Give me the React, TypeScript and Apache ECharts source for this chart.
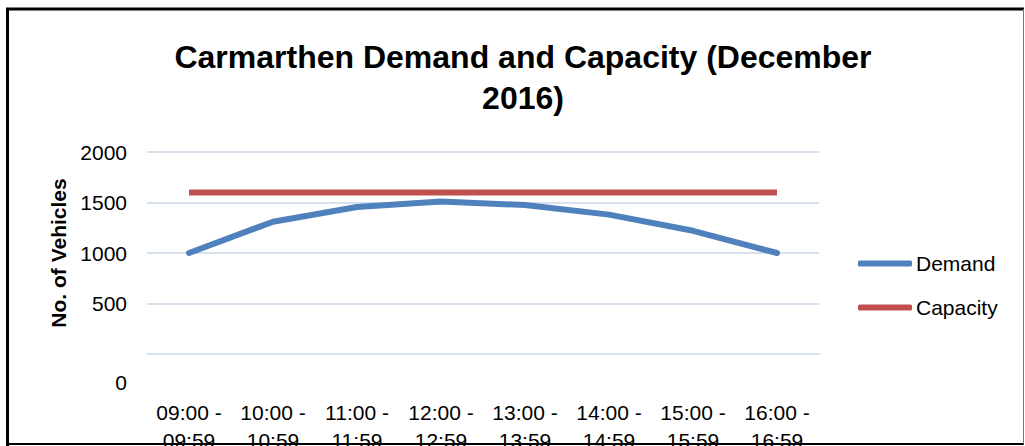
import React, { useEffect, useRef } from "react";
import * as echarts from "echarts";

const categories = [
  "09:00 -\n09:59",
  "10:00 -\n10:59",
  "11:00 -\n11:59",
  "12:00 -\n12:59",
  "13:00 -\n13:59",
  "14:00 -\n14:59",
  "15:00 -\n15:59",
  "16:00 -\n16:59",
];
const demand = [1000, 1310, 1455, 1510, 1475, 1380, 1220, 1000];
const capacity = [1600, 1600, 1600, 1600, 1600, 1600, 1600, 1600];
const titleText = "Carmarthen Demand and Capacity (December\n2016)";
const yAxisName = "No. of Vehicles";

const FONT = "'Liberation Sans', Arial, sans-serif";

export default function App() {
  const ref = useRef<HTMLDivElement>(null);
  useEffect(() => {
    if (!ref.current) return;
    const chart = echarts.init(ref.current, null, { renderer: "svg" });
    chart.setOption({
      animation: false,
      backgroundColor: "#ffffff",
      textStyle: { fontFamily: FONT },
      title: {
        text: titleText,
        left: 518,
        textAlign: "center",
        top: 31,
        textStyle: {
          fontFamily: FONT,
          fontWeight: "bold",
          fontSize: 32,
          lineHeight: 41,
          color: "#000000",
        },
      },
      legend: {
        orient: "vertical",
        left: 853,
        top: 248,
        itemWidth: 54,
        itemHeight: 6,
        itemGap: 23,
        icon: "roundRect",
        textStyle: { fontFamily: FONT, fontSize: 21, color: "#000000", padding: [0, 0, 0, -1] },
        data: ["Demand", "Capacity"],
      },
      grid: { left: 147, top: 152, width: 672, height: 202, outerBoundsMode: "none", containLabel: false },
      xAxis: {
        type: "category",
        data: categories,
        boundaryGap: true,
        axisLine: { show: true, lineStyle: { color: "#D5E1EF", width: 2 } },
        axisTick: { show: false },
        axisLabel: {
          interval: 0,
          margin: 44,
          fontFamily: FONT,
          fontSize: 21,
          lineHeight: 28,
          color: "#000000",
        },
      },
      yAxis: {
        type: "value",
        min: 0,
        max: 2000,
        interval: 500,
        name: yAxisName,
        nameLocation: "middle",
        nameGap: 77,
        nameTextStyle: { fontFamily: FONT, fontWeight: "bold", fontSize: 21, color: "#000000" },
        axisLine: { show: false },
        axisTick: { show: false },
        splitLine: { lineStyle: { color: "#D5E1EF", width: 2 } },
        axisLabel: {
          margin: 20,
          showMinLabel: true,
          showMaxLabel: true,
          hideOverlap: false,
          fontFamily: FONT,
          fontSize: 21,
          color: "#000000",
          formatter: (v: number) => (v === 0 ? "{z|0}" : String(v)),
          rich: {
            z: {
              fontFamily: FONT,
              fontSize: 21,
              color: "#000000",
              padding: [56, 0, 0, 0],
            },
          },
        },
      },
      series: [
        {
          name: "Demand",
          type: "line",
          data: demand,
          showSymbol: false,
          symbol: "none",
          lineStyle: { color: "#4F81BD", width: 6, cap: "round", join: "round" },
          itemStyle: { color: "#4F81BD" },
        },
        {
          name: "Capacity",
          type: "line",
          data: capacity,
          showSymbol: false,
          symbol: "none",
          lineStyle: { color: "#C0504D", width: 6 },
          itemStyle: { color: "#C0504D" },
        },
      ],
      graphic: [
        { type: "line", shape: { x1: 6, y1: 9, x2: 1024, y2: 9 }, style: { stroke: "#000", lineWidth: 3 } },
        { type: "line", shape: { x1: 7.5, y1: 8, x2: 7.5, y2: 446 }, style: { stroke: "#000", lineWidth: 3 } },
        { type: "line", shape: { x1: 6, y1: 444, x2: 1024, y2: 444 }, style: { stroke: "#000", lineWidth: 2 } },
        { type: "line", shape: { x1: 1023.5, y1: 9, x2: 1023.5, y2: 444 }, style: { stroke: "#777", lineWidth: 1 } },
      ],
    });
    return () => chart.dispose();
  }, []);
  return (
    <div
      ref={ref}
      style={{ position: "fixed", left: 0, top: 0, width: 1025, height: 446 }}
    />
  );
}
